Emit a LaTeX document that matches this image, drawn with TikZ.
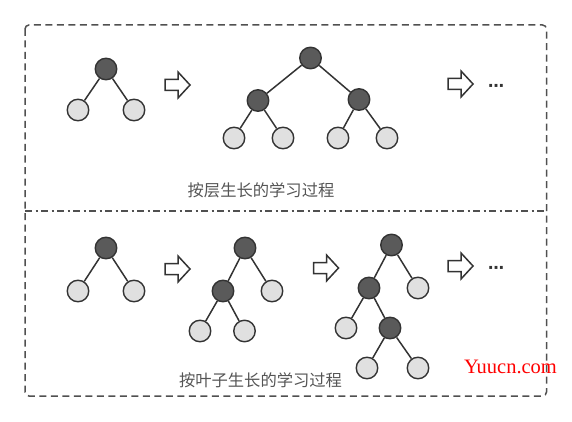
\documentclass[tikz,border=0pt]{standalone}
\usepackage{fontspec}
\newfontfamily\cjk{Noto Sans CJK SC}
\newfontfamily\dejavu{DejaVu Sans}
\newfontfamily\wmfont{Liberation Serif}
\definecolor{darknode}{HTML}{5A5A5A}
\definecolor{lightnode}{HTML}{E0E0E0}
\definecolor{strokec}{HTML}{333333}
\definecolor{boxc}{HTML}{505050}
\definecolor{textc}{HTML}{555555}
\tikzset{
  x=1pt, y=-1pt,
  dnode/.style={circle, draw=strokec, fill=darknode, line width=1.4pt, minimum size=21.5pt, inner sep=0pt},
  lnode/.style={circle, draw=strokec, fill=lightnode, line width=1.4pt, minimum size=21.5pt, inner sep=0pt},
  edge/.style={draw=strokec, line width=1.5pt},
  outerbox/.style={draw=boxc, line width=1.5pt, dash pattern=on 7pt off 4.5pt, rounded corners=4pt},
  divider/.style={draw=boxc, line width=1.5pt, dash pattern=on 7pt off 3.5pt on 2pt off 3.5pt},
  caption/.style={font=\cjk\fontsize{16.3}{18}\selectfont, text=textc, inner sep=0pt},
  dots/.style={font=\dejavu\bfseries\fontsize{16}{16}\selectfont, text=strokec, inner sep=0pt},
  hollowarrow/.style={draw=strokec, fill=white, line width=1.5pt, line join=miter},
  watermark/.style={font=\wmfont\fontsize{20.5}{21}\selectfont, text=red, inner sep=0pt}
}
\newcommand{\harrow}[2]{% x of tail, y of center
  \draw[hollowarrow] (#1,#2-5.5) -- (#1+13,#2-5.5) -- (#1+13,#2-13) -- (#1+25,#2) -- (#1+13,#2+13) -- (#1+13,#2+5.5) -- (#1,#2+5.5) -- cycle;}
\begin{document}
\begin{tikzpicture}
\useasboundingbox (0,0) rectangle (572,422);
% frame
\draw[outerbox] (25,25) rectangle (546.5,396);
\draw[divider] (25,211) -- (546.5,211);

% ===== top: level-wise =====
\node[dnode] (a1) at (106,69) {};
\node[lnode] (a2) at (78,110) {};
\node[lnode] (a3) at (134,110) {};
\draw[edge] (a1) -- (a2);
\draw[edge] (a1) -- (a3);
\harrow{165}{85}

\node[dnode] (b1) at (310.5,58) {};
\node[dnode] (b2) at (258,100.5) {};
\node[dnode] (b3) at (359,99.5) {};
\node[lnode] (b4) at (234,138) {};
\node[lnode] (b5) at (283,138) {};
\node[lnode] (b6) at (338,138) {};
\node[lnode] (b7) at (387,138) {};
\draw[edge] (b1) -- (b2);
\draw[edge] (b1) -- (b3);
\draw[edge] (b2) -- (b4);
\draw[edge] (b2) -- (b5);
\draw[edge] (b3) -- (b6);
\draw[edge] (b3) -- (b7);
\harrow{448}{84}
\node[dots] (d1) at (496,88) {⋯};
\node[caption] (t1) at (261,190) {按层生长的学习过程};

% ===== bottom: leaf-wise =====
\node[dnode] (c1) at (106,248) {};
\node[lnode] (c2) at (78,291) {};
\node[lnode] (c3) at (134,291) {};
\draw[edge] (c1) -- (c2);
\draw[edge] (c1) -- (c3);
\harrow{165}{269}

\node[dnode] (e1) at (245,248) {};
\node[dnode] (e2) at (223,291) {};
\node[lnode] (e3) at (272,291) {};
\node[lnode] (e4) at (200,331) {};
\node[lnode] (e5) at (244.5,331) {};
\draw[edge] (e1) -- (e2);
\draw[edge] (e1) -- (e3);
\draw[edge] (e2) -- (e4);
\draw[edge] (e2) -- (e5);
\harrow{313.5}{268}

\node[dnode] (f1) at (391.5,245) {};
\node[dnode] (f2) at (369,288) {};
\node[lnode] (f3) at (418,288) {};
\node[lnode] (f4) at (346,328) {};
\node[dnode] (f5) at (390,328) {};
\node[lnode] (f6) at (367,368) {};
\node[lnode] (f7) at (418,368) {};
\draw[edge] (f1) -- (f2);
\draw[edge] (f1) -- (f3);
\draw[edge] (f2) -- (f4);
\draw[edge] (f2) -- (f5);
\draw[edge] (f5) -- (f6);
\draw[edge] (f5) -- (f7);
\harrow{448}{266}
\node[dots] (d2) at (496,270) {⋯};
\node[caption] (t2) at (260.5,380) {按叶子生长的学习过程};

\node[watermark] (wm) at (510.5,367) {Yuucn.com};
\end{tikzpicture}
\end{document}
